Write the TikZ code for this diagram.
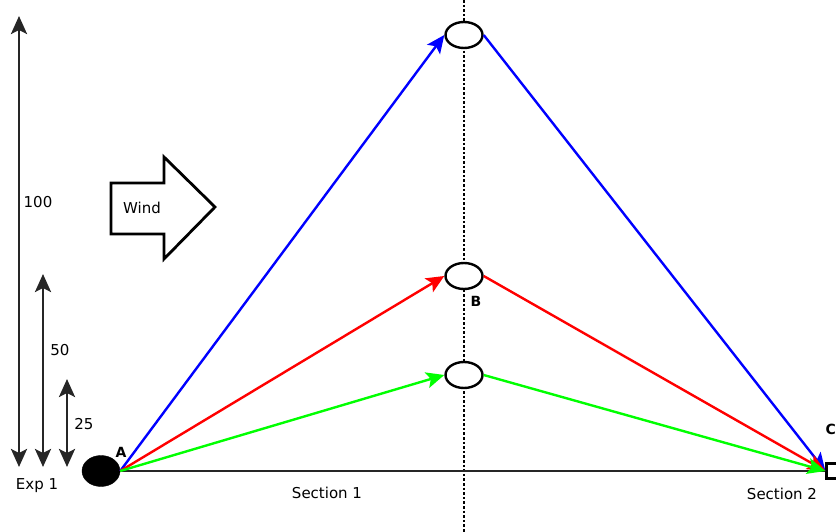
\documentclass[tikz,border=0pt]{standalone}
\usepackage{fontspec}
\setmainfont{DejaVu Sans}
\usetikzlibrary{arrows.meta,shapes.geometric}
\begin{document}
\begin{tikzpicture}[x=1pt,y=-1pt,
  lbl/.style={font=\fontsize{15}{16}\selectfont, inner sep=0pt},
  bold/.style={font=\fontsize{14}{16}\selectfont\bfseries, inner sep=0pt},
  balloon/.style={draw=black, fill=white, line width=2.4pt, ellipse, minimum width=37pt, minimum height=26pt, inner sep=0pt},
  conn/.style={line width=2.4pt, -{Stealth[length=18pt,width=16pt,inset=4pt]}},
  dim/.style={draw=black!85, line width=2.8pt, {Stealth[length=18pt,width=16pt,inset=4pt]}-{Stealth[length=18pt,width=16pt,inset=4pt]}}
]
\useasboundingbox (0,0) rectangle (836,532);
% dotted centre line
\coordinate (dtop) at (464,0);
\coordinate (dbot) at (464,532);
\draw[line width=2.6pt, dotted] (dtop) -- (dbot);
% balloons
\node[balloon] (T) at (464,35) {};
\node[balloon] (M) at (464,276) {};
\node[balloon] (L) at (464,375) {};
% start and end
\node[draw, fill=black, ellipse, minimum width=38pt, minimum height=31pt, inner sep=0pt] (A) at (101,471) {};
\node[draw=black, fill=white, line width=2.2pt, minimum width=13pt, minimum height=15pt, inner sep=0pt] (D) at (833,471) {};
% ground
\draw[line width=2.8pt, draw=black!85] (A.east) -- (D.west);
% paths
\draw[conn, blue] (A.east) -- (T.west);
\draw[conn, blue] (T.east) -- (D.west);
\draw[conn, red] (A.east) -- (M.west);
\draw[conn, red] (M.east) -- (D.west);
\draw[conn, green] (A.east) -- (L.west);
\draw[conn, green] (L.east) -- (D.west);
% labels
\node[bold] (lA) at (121,452) {A};
\node[bold] (lB) at (476,301) {B};
\node[bold, anchor=east] (lC) at (836,429) {C};
\node[lbl] (s1) at (327,493) {Section 1};
\node[lbl] (s2) at (782,494) {Section 2};
% dimension arrows
\coordinate (h100t) at (19,16);
\coordinate (h100b) at (19,467);
\coordinate (h50t) at (43,274);
\coordinate (h50b) at (43,467);
\coordinate (h25t) at (67,379);
\coordinate (h25b) at (67,467);
\draw[dim] (h100b) -- (h100t);
\draw[dim] (h50b) -- (h50t);
\draw[dim] (h25b) -- (h25t);
\node[lbl] (l100) at (38,202) {100};
\node[lbl] (l50) at (60,350) {50};
\node[lbl] (l25) at (84,424) {25};
\node[lbl] (exp) at (37,486) {Exp 1};
% wind arrow
\draw[line width=2.8pt, line join=miter, fill=white] (111,183) -- (164,183) -- (164,157) -- (215,207) -- (164,259) -- (164,234) -- (111,234) -- cycle;
\node[lbl] (wind) at (142,208) {Wind};
\end{tikzpicture}
\end{document}
